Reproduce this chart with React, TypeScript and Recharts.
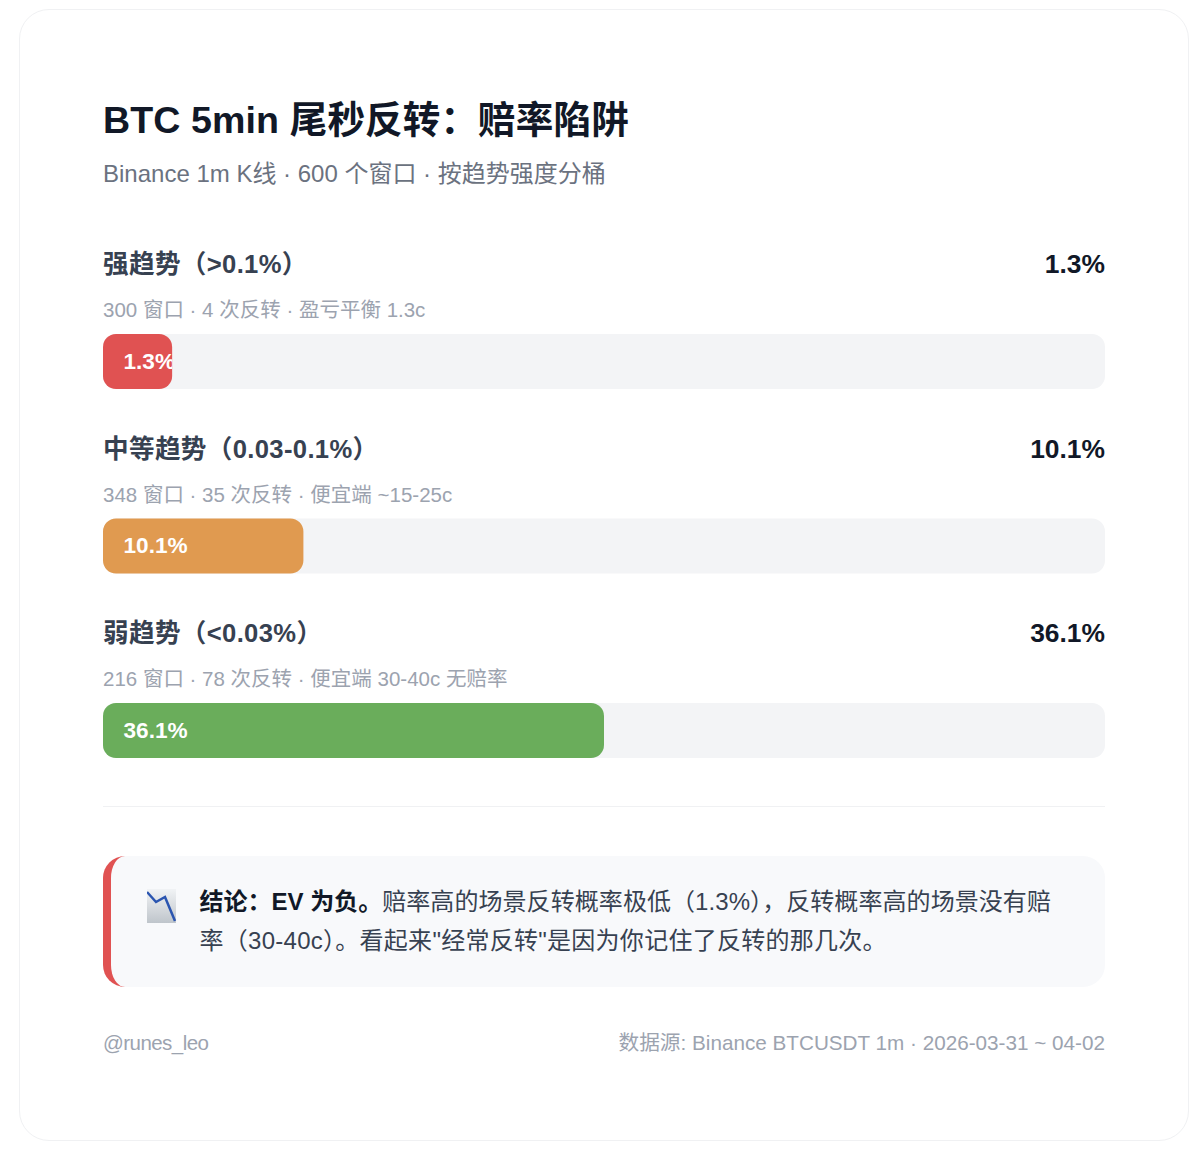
import { BarChart, Bar, Cell, XAxis, YAxis, LabelList } from "recharts";

const TIERS = ["强趋势（>0.1%）", "中等趋势（0.03-0.1%）", "弱趋势（<0.03%）"];
const RATES = [1.3, 10.1, 36.1];
// drawn length in the picture is not proportional to the rate
const FILL_PCT = [6.9, 20, 50];
const DETAILS = [
  "300 窗口 · 4 次反转 · 盈亏平衡 1.3c",
  "348 窗口 · 35 次反转 · 便宜端 ~15-25c",
  "216 窗口 · 78 次反转 · 便宜端 30-40c 无赔率",
];
const COLORS = ["#e05252", "#e09a50", "#6aad5b"];

const data = TIERS.map((name, i) => ({ name, rate: RATES[i], fill: FILL_PCT[i] }));

const FONT = '"Liberation Sans", "Noto Sans CJK SC", "Noto Sans", sans-serif';
const ROW_STEP = 184.5;

// one line of text placed by its vertical centre
function Line({ x, right, cy, size, weight = 400, color, spacing, children }: any) {
  return (
    <div
      style={{
        position: "absolute",
        left: x,
        right,
        top: cy - 30,
        height: 60,
        lineHeight: "60px",
        fontSize: size,
        fontWeight: weight,
        color,
        letterSpacing: spacing,
        whiteSpace: "nowrap",
      }}
    >
      {children}
    </div>
  );
}

// label gets cut at the end of the bar, like the 1.3% one
function BarLabel({ x, y, width, height, value, index }: any) {
  const id = "bar-clip-" + index;
  return (
    <g>
      <clipPath id={id}>
        <rect x={x} y={y} width={width} height={height} />
      </clipPath>
      <text
        x={x + 20.5}
        y={y + height / 2 + 7}
        fill="#fff"
        fontSize={22.6}
        fontWeight={700}
        fontFamily={FONT}
        clipPath={`url(#${id})`}
      >
        {value}%
      </text>
    </g>
  );
}

function ChartDownIcon() {
  return (
    <svg width={30} height={35} style={{ position: "absolute", left: 147, top: 889 }}>
      <defs>
        <linearGradient id="icon-bg" x1="0" y1="0" x2="0" y2="1">
          <stop offset="0" stopColor="#f1f3f5" />
          <stop offset="1" stopColor="#bfc5cb" />
        </linearGradient>
      </defs>
      <rect width={29} height={34} fill="url(#icon-bg)" />
      <path d="M0 3 L9 13 L18 8 L28 32" fill="none" stroke="#2b55b0" strokeWidth={2.5} />
    </svg>
  );
}

export default function App() {
  return (
    <div
      lang="zh-CN"
      style={{
        position: "absolute",
        left: 0,
        top: 0,
        width: 1200,
        height: 1155,
        background: "#fff",
        fontFamily: FONT,
        overflow: "hidden",
      }}
    >
      <div
        style={{
          position: "absolute",
          left: 19,
          top: 9,
          width: 1170,
          height: 1132,
          boxSizing: "border-box",
          border: "1.5px solid #f0f1f3",
          borderRadius: 30,
        }}
      />

      <Line x={103} cy={120} size={37.6} weight={700} color="#111827" spacing={0.1}>
        BTC 5min 尾秒反转：赔率陷阱
      </Line>
      <Line x={103} cy={174} size={24} color="#6b7280">
        Binance 1m K线 · 600 个窗口 · 按趋势强度分桶
      </Line>

      {TIERS.map((t, i) => (
        <div key={t}>
          <Line x={103} cy={264 + i * ROW_STEP} size={25.6} weight={700} color="#374151" spacing={0.35}>
            {t}
          </Line>
          <Line right={95} cy={264 + i * ROW_STEP} size={26.4} weight={700} color="#111827">
            {RATES[i]}%
          </Line>
          <Line x={103} cy={310 + i * ROW_STEP} size={20.5} color="#9ca3af">
            {DETAILS[i]}
          </Line>
        </div>
      ))}

      <div style={{ position: "absolute", left: 103, top: 268.75 }}>
        <BarChart
          width={1002}
          height={553.5}
          data={data}
          layout="vertical"
          margin={{ top: 0, right: 0, bottom: 0, left: 0 }}
        >
          <XAxis type="number" domain={[0, 100]} hide />
          <YAxis type="category" dataKey="name" hide />
          <Bar
            dataKey="fill"
            barSize={55}
            radius={13}
            background={{ fill: "#f3f4f6", radius: 13 } as any}
            isAnimationActive={false}
          >
            {data.map((d, i) => (
              <Cell key={d.name} fill={COLORS[i]} />
            ))}
            <LabelList dataKey="rate" content={BarLabel} />
          </Bar>
        </BarChart>
      </div>

      <div style={{ position: "absolute", left: 103, top: 806, width: 1002, height: 1, background: "#f0f1f3" }} />

      <div
        style={{
          position: "absolute",
          left: 103,
          top: 856,
          width: 1002,
          height: 131,
          boxSizing: "border-box",
          background: "#f8f9fb",
          borderLeft: "8px solid #e05252",
          borderRadius: 22,
        }}
      />
      <ChartDownIcon />
      <div
        style={{
          position: "absolute",
          left: 199.5,
          top: 883,
          fontSize: 24,
          lineHeight: "38.5px",
          color: "#374151",
          whiteSpace: "nowrap",
        }}
      >
        <b style={{ color: "#111827" }}>结论：EV 为负。</b>
        <span style={{ letterSpacing: 0.07 }}>赔率高的场景反转概率极低（1.3%），反转概率高的场景没有赔</span>
        <br />
        <span style={{ letterSpacing: 0.27 }}>率（30-40c）。看起来"经常反转"是因为你记住了反转的那几次。</span>
      </div>

      <Line x={103} cy={1043} size={20.5} color="#9ca3af" spacing={-0.55}>
        @runes_leo
      </Line>
      <Line right={95} cy={1043} size={20.7} color="#9ca3af">
        数据源: Binance BTCUSDT 1m · 2026-03-31 ~ 04-02
      </Line>
    </div>
  );
}
